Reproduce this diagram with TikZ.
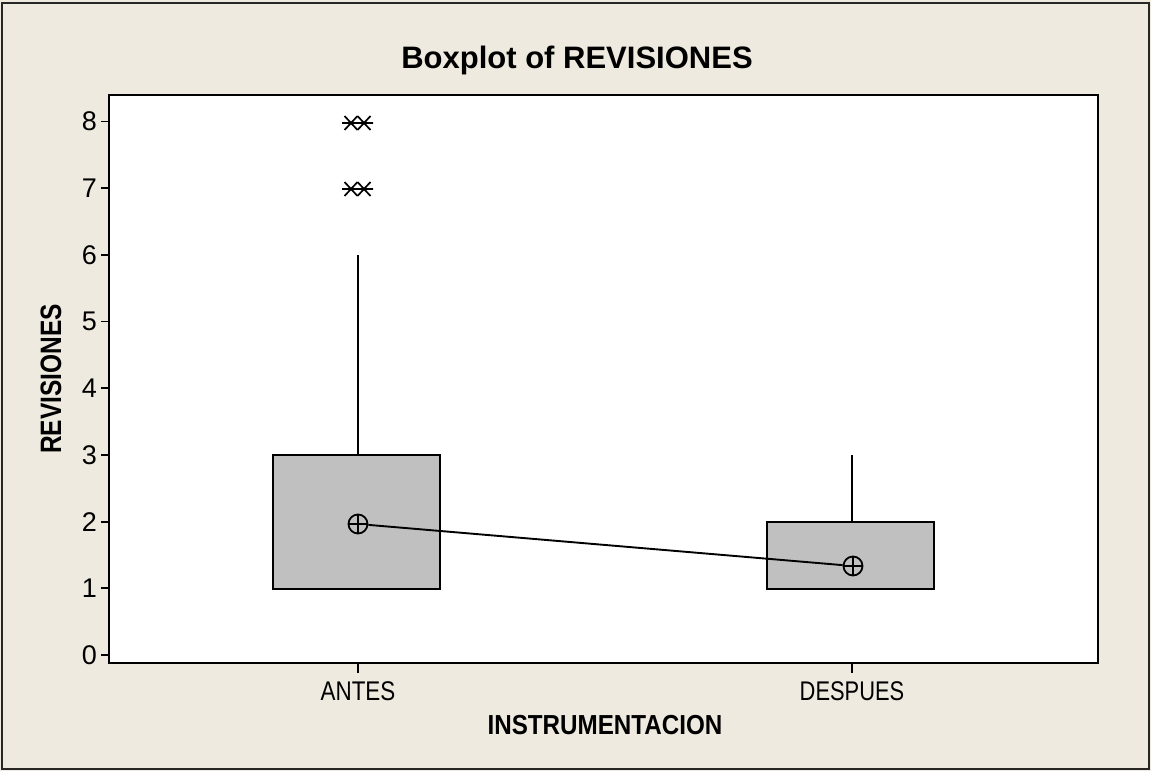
\documentclass[tikz,border=0pt]{standalone}
\usepackage{fontspec}
\usepackage{graphicx}
\setmainfont{Liberation Sans}
\definecolor{bgbeige}{HTML}{EEEAE0}
\definecolor{boxgray}{HTML}{C0C0C0}
\tikzset{
  frameline/.style={draw=black, line width=2.2pt},
  boxstyle/.style={draw=black, fill=boxgray, line width=2.2pt},
  whisk/.style={draw=black, line width=1.9pt},
  tickline/.style={draw=black, line width=1.8pt},
  meansym/.style={circle, draw=black, line width=1.8pt, minimum size=19pt, inner sep=0pt,
    path picture={\draw[line width=1.6pt] (path picture bounding box.north) -- (path picture bounding box.south)
      (path picture bounding box.west) -- (path picture bounding box.east);}},
  ytick/.style={anchor=east, inner sep=0pt, font=\fontsize{27}{31}\selectfont},
  xticklab/.style={anchor=base, inner sep=0pt, font=\fontsize{27}{31}\selectfont},
  astsym/.pic={\draw[line width=1.7pt] (-9,0) -- (9,0) (-6.5,-7) -- (6.5,7) (-6.5,7) -- (6.5,-7);}
}
\begin{document}
\begin{tikzpicture}[x=1pt, y=-1pt]
\useasboundingbox (0,0) rectangle (1151,771);
\fill[bgbeige] (0,0) rectangle (1151,771);
\draw[line width=1.8pt, draw=black!85] (2,3) rectangle (1149,769);
% plot area
\fill[white] (109,95) rectangle (1098,663);
% title
\node[anchor=base, inner sep=0pt, font=\bfseries\fontsize{31}{36}\selectfont] (title) at (577,68) {Boxplot of REVISIONES};
% y label
\node[anchor=base, rotate=90, inner sep=0pt, font=\bfseries\fontsize{29.5}{34}\selectfont] (ylab) at (61,379) {\scalebox{0.83}[1]{REVISIONES}};
% x label
\node[anchor=base, inner sep=0pt, font=\bfseries\fontsize{27.5}{32}\selectfont] (xlab) at (605,734) {\scalebox{0.88}[1]{INSTRUMENTACION}};
% y ticks
\foreach \v in {0,...,8}{
  \draw[tickline] (101,{655-66.7*\v}) -- (109,{655-66.7*\v});
  \node[ytick] (yt\v) at (97,{655-66.7*\v}) {\v};
}
% x ticks
\draw[tickline] (358,663) -- (358,673);
\draw[tickline] (852,663) -- (852,673);
\node[xticklab] (xa) at (358,700) {\scalebox{0.83}[1]{ANTES}};
\node[xticklab] (xd) at (852,700) {\scalebox{0.81}[1]{DESPUES}};
% whiskers
\draw[whisk] (358,455) -- (358,{655-66.7*6});
\draw[whisk] (852,455) -- (852,522);
% boxes
\draw[boxstyle] (273,455) rectangle (440,589);
\draw[boxstyle] (767,522) rectangle (934,589);
% outliers
\pic at (351,123) {astsym};
\pic at (364,123) {astsym};
\pic at (351,189) {astsym};
\pic at (364,189) {astsym};
% means
\node[meansym] (m1) at (358,524) {};
\node[meansym] (m2) at (853,566) {};
\draw[whisk] (m1) -- (m2);
% frame
\draw[frameline] (109,95) rectangle (1098,663);
\end{tikzpicture}
\end{document}
